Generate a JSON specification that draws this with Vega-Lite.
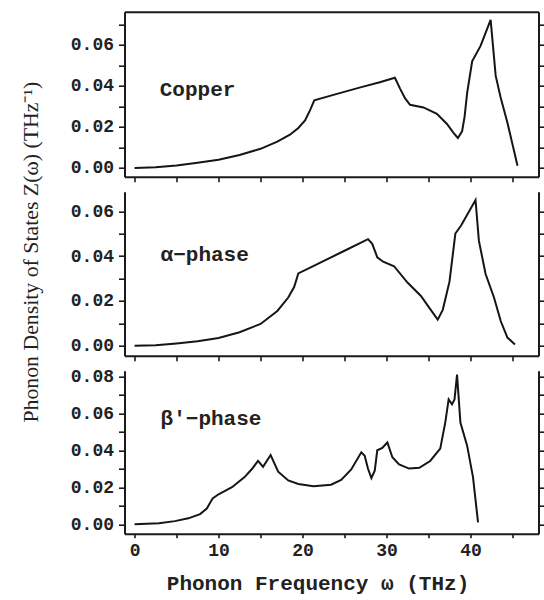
{
  "$schema": "https://vega.github.io/schema/vega-lite/v6.json",
  "autosize": {"type": "none"},
  "padding": {"left": 124.5, "top": 11.7, "right": 419.5, "bottom": 588.3},
  "bounds": "flush",
  "spacing": 15,
  "background": "white",
  "config": {
    "view": {"stroke": null},
    "axis": {
      "domainColor": "#1a1a1a", "domainWidth": 2,
      "tickColor": "#1a1a1a", "tickWidth": 1.6,
      "grid": false,
      "labelFont": "Liberation Mono", "labelFontSize": 18, "labelFontWeight": "bold", "labelColor": "#222",
      "titleFont": "Liberation Mono", "titleFontSize": 21, "titleFontWeight": "bold", "titleColor": "#222"
    },
    "line": {"color": "#151515", "strokeWidth": 2},
    "text": {"font": "Liberation Mono", "fontSize": 21, "fontWeight": "bold", "color": "#222", "align": "left", "baseline": "alphabetic"}
  },
  "datasets": {
    "cu": [
      {"w": 0, "z": 0}, {"w": 2.5, "z": 0.0003}, {"w": 5, "z": 0.0012}, {"w": 7.5, "z": 0.0025},
      {"w": 10, "z": 0.004}, {"w": 12.5, "z": 0.0063}, {"w": 15, "z": 0.0093}, {"w": 17, "z": 0.0128},
      {"w": 18.5, "z": 0.0162}, {"w": 19.5, "z": 0.0195}, {"w": 20.3, "z": 0.0232}, {"w": 20.9, "z": 0.0282},
      {"w": 21.4, "z": 0.033}, {"w": 24, "z": 0.036}, {"w": 27, "z": 0.0394}, {"w": 29.2, "z": 0.0418},
      {"w": 31.0, "z": 0.044}, {"w": 31.6, "z": 0.0388}, {"w": 32.2, "z": 0.034}, {"w": 32.8, "z": 0.0308},
      {"w": 34.4, "z": 0.0295}, {"w": 36.0, "z": 0.0264}, {"w": 37.2, "z": 0.0214}, {"w": 38.0, "z": 0.017},
      {"w": 38.5, "z": 0.0146}, {"w": 39.0, "z": 0.0178}, {"w": 39.3, "z": 0.025}, {"w": 39.6, "z": 0.0365},
      {"w": 40.2, "z": 0.052}, {"w": 41.2, "z": 0.0595}, {"w": 42.4, "z": 0.0722}, {"w": 43.0, "z": 0.045},
      {"w": 43.6, "z": 0.0342}, {"w": 44.4, "z": 0.022}, {"w": 45.6, "z": 0.001}
    ],
    "alpha": [
      {"w": 0, "z": 0}, {"w": 2.5, "z": 0.0002}, {"w": 5, "z": 0.001}, {"w": 7.5, "z": 0.002},
      {"w": 10, "z": 0.0034}, {"w": 12.5, "z": 0.006}, {"w": 15, "z": 0.0097}, {"w": 17, "z": 0.0155},
      {"w": 18.3, "z": 0.0215}, {"w": 19.0, "z": 0.0262}, {"w": 19.5, "z": 0.0323}, {"w": 22, "z": 0.0369},
      {"w": 25, "z": 0.0424}, {"w": 27.8, "z": 0.0476}, {"w": 28.3, "z": 0.0455}, {"w": 28.9, "z": 0.0395},
      {"w": 29.6, "z": 0.0375}, {"w": 30.9, "z": 0.0355}, {"w": 32.5, "z": 0.0282}, {"w": 34.1, "z": 0.0222},
      {"w": 35.1, "z": 0.0169}, {"w": 36.1, "z": 0.0116}, {"w": 36.7, "z": 0.016}, {"w": 37.5, "z": 0.0286},
      {"w": 38.2, "z": 0.0501}, {"w": 38.9, "z": 0.0538}, {"w": 40.6, "z": 0.0651}, {"w": 41.0, "z": 0.0469},
      {"w": 41.8, "z": 0.032}, {"w": 42.8, "z": 0.0215}, {"w": 43.6, "z": 0.011}, {"w": 44.4, "z": 0.0036},
      {"w": 45.3, "z": 0.0005}
    ],
    "beta": [
      {"w": 0, "z": 0}, {"w": 2.9, "z": 0.0005}, {"w": 4.8, "z": 0.0017}, {"w": 6.4, "z": 0.0032},
      {"w": 7.8, "z": 0.0055}, {"w": 8.6, "z": 0.0085}, {"w": 9.3, "z": 0.014}, {"w": 10.0, "z": 0.0162},
      {"w": 11.6, "z": 0.02}, {"w": 13.1, "z": 0.0255}, {"w": 14.0, "z": 0.03}, {"w": 14.7, "z": 0.0343},
      {"w": 15.3, "z": 0.031}, {"w": 16.2, "z": 0.0374}, {"w": 17.1, "z": 0.0284}, {"w": 18.3, "z": 0.0237},
      {"w": 19.5, "z": 0.0218}, {"w": 21.3, "z": 0.0205}, {"w": 23.4, "z": 0.0214}, {"w": 24.6, "z": 0.024},
      {"w": 25.8, "z": 0.0296}, {"w": 27.0, "z": 0.0389}, {"w": 27.4, "z": 0.037}, {"w": 27.8, "z": 0.03},
      {"w": 28.2, "z": 0.025}, {"w": 28.6, "z": 0.029}, {"w": 28.9, "z": 0.04}, {"w": 29.5, "z": 0.0412},
      {"w": 30.1, "z": 0.0442}, {"w": 30.7, "z": 0.0362}, {"w": 31.5, "z": 0.0323}, {"w": 32.7, "z": 0.0301},
      {"w": 33.9, "z": 0.0305}, {"w": 35.2, "z": 0.0342}, {"w": 36.4, "z": 0.0409}, {"w": 37.0, "z": 0.0551},
      {"w": 37.4, "z": 0.0675}, {"w": 37.8, "z": 0.0648}, {"w": 38.1, "z": 0.0675}, {"w": 38.4, "z": 0.0809},
      {"w": 38.8, "z": 0.055}, {"w": 39.6, "z": 0.0425}, {"w": 40.3, "z": 0.0255}, {"w": 40.9, "z": 0.001}
    ],
    "cuLabel": [{"w": 3.0, "z": 0.0352, "t": "Copper"}],
    "alphaLabel": [{"w": 3.1, "z": 0.0379, "t": "α−phase"}],
    "betaLabel": [{"w": 3.1, "z": 0.0535, "t": "β′−phase"}]
  },
  "vconcat": [
    {
      "width": 414, "height": 165,
      "layer": [
        {
          "data": {"name": "cu"},
          "mark": {"type": "line"},
          "encoding": {
            "x": {"field": "w", "type": "quantitative", "scale": {"domain": [-1.2, 48.1], "nice": false, "zero": false},
                  "axis": {"orient": "bottom", "values": [0, 5, 10, 15, 20, 25, 30, 35, 40, 45], "labels": false, "tickSize": 5, "title": null}},
            "y": {"field": "z", "type": "quantitative", "scale": {"domain": [-0.0043, 0.0762], "nice": false, "zero": false},
                  "axis": {"orient": "left", "values": [0, 0.01, 0.02, 0.03, 0.04, 0.05, 0.06, 0.07], "tickSize": 6, "labelPadding": 5,
                           "labelExpr": "round(datum.value*100) % 2 == 0 ? format(datum.value, '.2f') : ''", "title": null}}
          }
        },
        {
          "data": {"name": "cuLabel"},
          "mark": {"type": "text"},
          "encoding": {
            "x": {"field": "w", "type": "quantitative", "axis": {"orient": "top", "ticks": false, "labels": false, "title": null}},
            "y": {"field": "z", "type": "quantitative", "axis": {"orient": "right", "values": [0, 0.01, 0.02, 0.03, 0.04, 0.05, 0.06, 0.07], "labels": false, "tickSize": 6, "title": null}},
            "text": {"field": "t"}
          }
        }
      ],
      "resolve": {"axis": {"x": "independent", "y": "independent"}}
    },
    {
      "width": 414, "height": 164,
      "layer": [
        {
          "data": {"name": "alpha"},
          "mark": {"type": "line"},
          "encoding": {
            "x": {"field": "w", "type": "quantitative", "scale": {"domain": [-1.2, 48.1], "nice": false, "zero": false},
                  "axis": {"orient": "bottom", "values": [0, 5, 10, 15, 20, 25, 30, 35, 40, 45], "labels": false, "tickSize": 5, "title": null}},
            "y": {"field": "z", "type": "quantitative", "scale": {"domain": [-0.0045, 0.0688], "nice": false, "zero": false},
                  "axis": {"orient": "left", "values": [0, 0.01, 0.02, 0.03, 0.04, 0.05, 0.06], "tickSize": 6, "labelPadding": 5,
                           "labelExpr": "round(datum.value*100) % 2 == 0 ? format(datum.value, '.2f') : ''",
                           "title": "Phonon Density of States Z(ω) (THz⁻¹)", "titleFont": "Liberation Serif", "titleFontWeight": "normal", "titleFontSize": 21.8,
                           "titleX": -94, "titleY": 60, "titleAngle": 270, "titleAlign": "center", "titleBaseline": "middle"}}
          }
        },
        {
          "data": {"name": "alphaLabel"},
          "mark": {"type": "text"},
          "encoding": {
            "x": {"field": "w", "type": "quantitative", "axis": null},
            "y": {"field": "z", "type": "quantitative", "axis": {"orient": "right", "values": [0, 0.01, 0.02, 0.03, 0.04, 0.05, 0.06], "labels": false, "tickSize": 6, "title": null}},
            "text": {"field": "t"}
          }
        }
      ],
      "resolve": {"axis": {"x": "independent", "y": "independent"}}
    },
    {
      "width": 414, "height": 163,
      "layer": [
        {
          "data": {"name": "beta"},
          "mark": {"type": "line"},
          "encoding": {
            "x": {"field": "w", "type": "quantitative", "scale": {"domain": [-1.2, 48.1], "nice": false, "zero": false},
                  "axis": {"orient": "bottom", "values": [0, 5, 10, 15, 20, 25, 30, 35, 40, 45], "tickSize": 4, "labelPadding": 4,
                           "labelExpr": "datum.value % 10 == 0 ? datum.label : ''",
                           "title": "Phonon Frequency ω (THz)", "titleX": 193, "titleY": 56, "titleAlign": "center", "titleBaseline": "alphabetic"}},
            "y": {"field": "z", "type": "quantitative", "scale": {"domain": [-0.0051, 0.083], "nice": false, "zero": false},
                  "axis": {"orient": "left", "values": [0, 0.01, 0.02, 0.03, 0.04, 0.05, 0.06, 0.07, 0.08], "tickSize": 6, "labelPadding": 5,
                           "labelExpr": "round(datum.value*100) % 2 == 0 ? format(datum.value, '.2f') : ''", "title": null}}
          }
        },
        {
          "data": {"name": "betaLabel"},
          "mark": {"type": "text"},
          "encoding": {
            "x": {"field": "w", "type": "quantitative", "axis": null},
            "y": {"field": "z", "type": "quantitative", "axis": {"orient": "right", "values": [0, 0.01, 0.02, 0.03, 0.04, 0.05, 0.06, 0.07, 0.08], "labels": false, "tickSize": 6, "title": null}},
            "text": {"field": "t"}
          }
        }
      ],
      "resolve": {"axis": {"x": "independent", "y": "independent"}}
    }
  ]
}
